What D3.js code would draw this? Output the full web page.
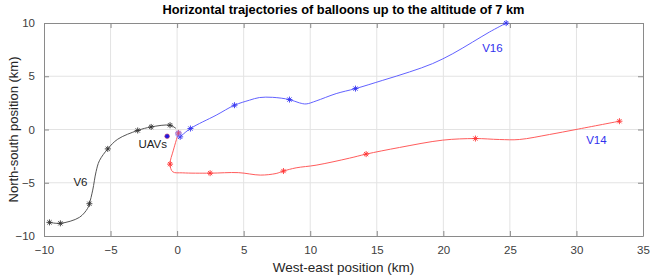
<!DOCTYPE html>
<html lang="en">
<head>
  <meta charset="UTF-8">
  <title>Balloon trajectories</title>
  <script src="https://d3js.org/d3.v7.min.js"></script>
  <style>
    body { margin: 0; background: #fff; }
    svg { font-family: "Liberation Sans", Arial, sans-serif; }
  </style>
</head>
<body>
  <div id="chart"></div>

  <script>
    // balloon tracks (km)
    const v6East  = [-9.59, -8.77, -7.34, -6.72, -6.59, -6.34, -6.09, -5.84, -5.21, -4.46, -2.96, -1.95, -0.53, -0.08];
    const v6North = [-8.72, -8.81, -8.25, -7.40, -6.97, -5.69, -3.97, -2.94, -1.82, -0.91, -0.09, 0.24, 0.40, 0.09];
    const v6MarkEast  = [-9.59, -8.77, -6.59, -5.21, -2.96, -1.95, -0.53];
    const v6MarkNorth = [-8.72, -8.81, -6.97, -1.82, -0.09, 0.24, 0.40];

    const v14East  = [0.10, -0.28, -0.53, -0.33, 0.42, 2.48, 4.60, 6.25, 7.44, 7.99, 8.94, 10.44, 12.95, 14.20, 16.70, 19.95, 22.41, 24.21, 25.71, 27.97, 29.97, 33.23];
    const v14North = [-0.32, -1.94, -3.25, -3.97, -4.07, -4.10, -4.05, -4.28, -4.13, -3.90, -3.60, -3.35, -2.69, -2.31, -1.69, -1.00, -0.85, -0.94, -0.94, -0.47, 0.00, 0.78];
    const v14MarkEast  = [0.10, -0.53, 2.48, 7.99, 14.20, 22.41, 33.23];
    const v14MarkNorth = [-0.32, -3.25, -4.10, -3.90, -2.31, -0.85, 0.78];

    const v16East  = [0.23, 1.00, 2.93, 4.31, 5.43, 6.18, 7.18, 8.44, 9.19, 9.69, 10.44, 11.95, 13.40, 15.45, 17.45, 19.20, 20.71, 22.20, 23.46, 24.72];
    const v16North = [-0.69, 0.09, 1.34, 2.28, 2.75, 3.00, 3.02, 2.81, 2.50, 2.40, 2.68, 3.37, 3.84, 4.62, 5.40, 6.19, 7.12, 8.21, 9.15, 9.99];
    const v16MarkEast  = [0.23, 1.00, 4.31, 8.44, 13.40, 24.72];
    const v16MarkNorth = [-0.69, 0.09, 2.28, 2.81, 3.84, 9.99];

    const uavEast = [-0.75];
    const uavNorth = [-0.63];

    const xTicks = [-10, -5, 0, 5, 10, 15, 20, 25, 30, 35];
    const yTicks = [-10, -5, 0, 5, 10];

    const W = 650, H = 277;
    const margin = {top: 23, right: 7, bottom: 41, left: 44};
    const width = W - margin.left - margin.right,
          height = H - margin.top - margin.bottom;

    const svg = d3.select("#chart").append("svg")
      .attr("width", W).attr("height", H);
    const g = svg.append("g").attr("transform", `translate(${margin.left},${margin.top})`);

    const x = d3.scaleLinear().domain([-10, 35]).range([0, width]);
    const y = d3.scaleLinear().domain([-10, 10]).range([height, 0]);

    // grid
    g.append("g").selectAll("line").data(xTicks.slice(1, -1)).enter().append("line")
      .attr("x1", d => x(d)).attr("x2", d => x(d)).attr("y1", 0).attr("y2", height)
      .attr("stroke", "#e3e3e3").attr("stroke-width", 1);
    g.append("g").selectAll("line").data(yTicks.slice(1, -1)).enter().append("line")
      .attr("y1", d => y(d)).attr("y2", d => y(d)).attr("x1", 0).attr("x2", width)
      .attr("stroke", "#e3e3e3").attr("stroke-width", 1);

    // axes, ticks inward on all sides
    const styleAxis = sel => {
      sel.select(".domain").attr("stroke", "#8a8a8a");
      sel.selectAll(".tick line").attr("stroke", "#8a8a8a");
      sel.selectAll(".tick text").attr("fill", "#404040").style("font-size", "11.5px");
    };
    g.append("g").attr("transform", `translate(0,${height})`)
      .call(d3.axisBottom(x).tickValues(xTicks).tickSizeInner(-5).tickSizeOuter(0).tickPadding(10))
      .call(styleAxis);
    g.append("g")
      .call(d3.axisLeft(y).tickValues(yTicks).tickSizeInner(-5).tickSizeOuter(0).tickPadding(9))
      .call(styleAxis);
    g.append("g")
      .call(d3.axisTop(x).tickValues(xTicks).tickSizeInner(-5).tickSizeOuter(0).tickFormat(""))
      .call(styleAxis);
    g.append("g").attr("transform", `translate(${width},0)`)
      .call(d3.axisRight(y).tickValues(yTicks).tickSizeInner(-5).tickSizeOuter(0).tickFormat(""))
      .call(styleAxis);

    const line = d3.line().x(d => x(d[0])).y(d => y(d[1])).curve(d3.curveCatmullRom.alpha(0.5));

    const series = [
      {e: v6East, n: v6North, me: v6MarkEast, mn: v6MarkNorth, line: "#555", mark: "#333"},
      {e: v14East, n: v14North, me: v14MarkEast, mn: v14MarkNorth, line: "#ff5c5c", mark: "#ff3333"},
      {e: v16East, n: v16North, me: v16MarkEast, mn: v16MarkNorth, line: "#6262ff", mark: "#3333f0"}
    ];

    series.forEach(s => {
      g.append("path")
        .datum(d3.zip(s.e, s.n))
        .attr("d", line)
        .attr("fill", "none")
        .attr("stroke", s.line)
        .attr("stroke-width", 1);

      // asterisk markers
      const r = 3, rd = r * 0.7;
      const m = g.append("g").selectAll("g").data(d3.zip(s.me, s.mn)).enter().append("g")
        .attr("transform", d => `translate(${x(d[0])},${y(d[1])})`)
        .attr("stroke", s.mark).attr("stroke-width", 0.9);
      m.append("line").attr("x1", -r).attr("x2", r);
      m.append("line").attr("y1", -r).attr("y2", r);
      m.append("line").attr("x1", -rd).attr("y1", -rd).attr("x2", rd).attr("y2", rd);
      m.append("line").attr("x1", -rd).attr("y1", rd).attr("x2", rd).attr("y2", -rd);
    });

    // light circle at launch point
    g.append("circle")
      .attr("cx", x(0.1)).attr("cy", y(-0.4)).attr("r", 3)
      .attr("fill", "rgba(120,120,255,0.35)").attr("stroke", "rgba(120,120,255,0.5)");

    // UAVs
    g.selectAll(".uav").data(d3.zip(uavEast, uavNorth)).enter().append("circle")
      .attr("cx", d => x(d[0])).attr("cy", d => y(d[1])).attr("r", 2.3)
      .attr("fill", "#1a1ae6").attr("stroke", "#c03060").attr("stroke-width", 0.6);

    // labels
    const labels = [
      {t: "V16", e: 23.69, n: 7.62, c: "#3030ee"},
      {t: "V14", e: 31.5, n: -1.0, c: "#3030ee"},
      {t: "V6", e: -7.26, n: -4.94, c: "#222"},
      {t: "UAVs", e: -1.83, n: -1.38, c: "#222"}
    ];
    g.selectAll(".lbl").data(labels).enter().append("text")
      .attr("x", d => x(d.e)).attr("y", d => y(d.n))
      .attr("dy", "0.35em").attr("text-anchor", "middle")
      .style("font-size", "11.5px").attr("fill", d => d.c)
      .text(d => d.t);

    // titles
    svg.append("text")
      .attr("x", margin.left + width / 2).attr("y", 14)
      .attr("text-anchor", "middle")
      .style("font-size", "12.8px").style("font-weight", "bold").attr("fill", "#000")
      .text("Horizontal trajectories of balloons up to the altitude of 7 km");

    svg.append("text")
      .attr("x", margin.left + width / 2).attr("y", 272)
      .attr("text-anchor", "middle")
      .style("font-size", "13.5px").attr("fill", "#262626")
      .text("West-east position (km)");

    svg.append("text")
      .attr("transform", `translate(18,${margin.top + height / 2}) rotate(-90)`)
      .attr("text-anchor", "middle")
      .style("font-size", "13px").attr("fill", "#262626")
      .text("North-south position (km)");
  </script>
</body>
</html>
